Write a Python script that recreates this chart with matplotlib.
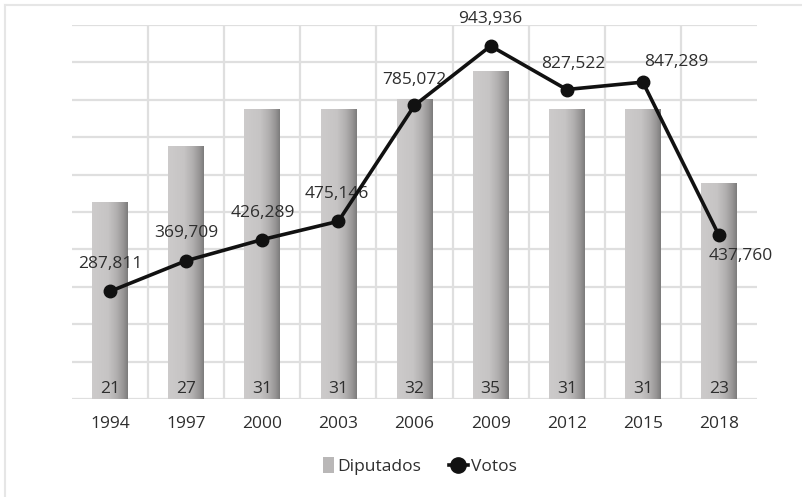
import numpy as np
import matplotlib
matplotlib.use("Agg")
import matplotlib.pyplot as plt
from matplotlib.colors import LinearSegmentedColormap
from matplotlib.lines import Line2D
from matplotlib.patches import Patch, Rectangle
from matplotlib.legend_handler import HandlerPatch

years = ["1994", "1997", "2000", "2003", "2006", "2009", "2012", "2015", "2018"]
diputados = [21, 27, 31, 31, 32, 35, 31, 31, 23]
votos = [287811, 369709, 426289, 475146, 785072, 943936, 827522, 847289, 437760]
# label offsets in pixels (dx, dy) relative to each point
label_offsets = [(0, 27), (0, 28), (1, 27), (-2, 27), (0, 25), (0, 27), (7, 26), (33, 20), (22, -21)]

plt.rcParams['font.family'] = ['Open Sans', 'DejaVu Sans']
txt_color = '#2e2e2e'

fig = plt.figure(figsize=(8.02, 4.97), dpi=100)
ax1 = fig.add_axes([72/802, (497-399)/497, (757-72)/802, (399-25)/497])

x = np.arange(len(years))
w = 0.47

# gridlines
grid_c = '#dfdfdf'
for yv in range(0, 41, 4):
    ax1.axhline(yv, color=grid_c, lw=1.6, zorder=0)
for xv in np.arange(0.5, len(years) - 0.5, 1):
    ax1.axvline(xv, color=grid_c, lw=1.6, zorder=0)

cmap = LinearSegmentedColormap.from_list('cyl', [
    (0.0, '#cdcbcb'), (0.45, '#c6c4c4'), (0.7, '#b0aeae'), (0.88, '#969494'), (1.0, '#7c7b7b')])
grad = np.linspace(0, 1, 256).reshape(1, -1)
for xi, h in zip(x, diputados):
    ax1.imshow(grad, cmap=cmap, aspect='auto', extent=[xi - w/2, xi + w/2, 0, h],
               zorder=2, interpolation='bilinear')
    ax1.annotate(str(h), (xi, 0), xytext=(0, 2), textcoords='offset pixels',
                 ha='center', va='bottom', fontsize=12.5, color=txt_color, zorder=5)
ax1.set_xlim(-0.5, len(years) - 0.5)
ax1.set_ylim(0, 40)

ax1.set_xticks(x)
ax1.set_xticklabels(years, fontsize=12.5, color=txt_color)
ax1.tick_params(axis='x', length=0, pad=12)
ax1.set_yticks([])
for s in ax1.spines.values():
    s.set_visible(False)

ax2 = ax1.twinx()
ax2.set_ylim(0, 1000000)
ax2.plot(x, votos, color='#111111', lw=2.6, marker='o', markersize=9, zorder=6)
for xi, v, (dx, dy) in zip(x, votos, label_offsets):
    ax2.annotate(f"{v:,}", (xi, v), xytext=(dx, dy), textcoords='offset pixels',
                 ha='center', va='center', fontsize=12.5, color=txt_color)
ax2.set_yticks([])
for s in ax2.spines.values():
    s.set_visible(False)


def narrow_patch(legend, orig_handle, xdescent, ydescent, width, height, fontsize):
    pw = width * 0.55
    return Rectangle((width - pw - xdescent, -ydescent - height * 0.15), pw, height * 1.3)


handles = [Patch(facecolor='#b9b7b7', edgecolor='none'),
           Line2D([0], [0], color='#111111', lw=2.6, marker='o', markersize=11)]
fig.legend(handles, ['Diputados', 'Votos'], loc='center', bbox_to_anchor=(416/802, 1 - 467/497),
           ncol=2, frameon=False, fontsize=12.5, handlelength=1.1, handletextpad=0.2,
           columnspacing=1.6, labelcolor=txt_color,
           handler_map={Patch: HandlerPatch(patch_func=narrow_patch)})

# outer light border (left and top visible)
fig.add_artist(Line2D([5/802, 5/802], [0, 1 - 5/497], color='#e6e6e6', lw=1.5, transform=fig.transFigure))
fig.add_artist(Line2D([5/802, 1], [1 - 5/497, 1 - 5/497], color='#e6e6e6', lw=1.5, transform=fig.transFigure))

fig.savefig('out.png', dpi=100)
